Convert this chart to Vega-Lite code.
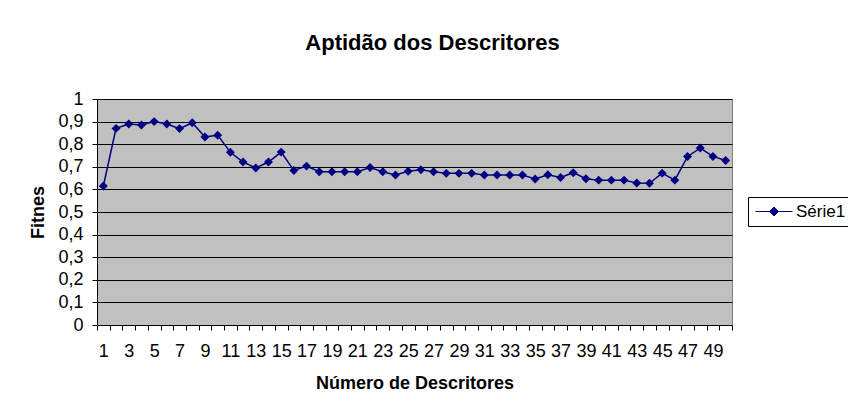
{
  "$schema": "https://vega.github.io/schema/vega-lite/v6.json",
  "width": 635,
  "height": 226,
  "autosize": "none",
  "padding": {"left": 97, "top": 99, "right": 116, "bottom": 87},
  "background": "white",
  "title": {
    "text": "Aptidão dos Descritores",
    "font": "Liberation Sans",
    "fontSize": 22,
    "fontWeight": "bold",
    "color": "black",
    "anchor": "middle",
    "dx": 18,
    "baseline": "alphabetic",
    "offset": 18
  },
  "data": {
    "values": [
      {"n": 1, "fitness": 0.615, "serie": "Série1"},
      {"n": 2, "fitness": 0.87, "serie": "Série1"},
      {"n": 3, "fitness": 0.889, "serie": "Série1"},
      {"n": 4, "fitness": 0.885, "serie": "Série1"},
      {"n": 5, "fitness": 0.9, "serie": "Série1"},
      {"n": 6, "fitness": 0.889, "serie": "Série1"},
      {"n": 7, "fitness": 0.869, "serie": "Série1"},
      {"n": 8, "fitness": 0.895, "serie": "Série1"},
      {"n": 9, "fitness": 0.832, "serie": "Série1"},
      {"n": 10, "fitness": 0.84, "serie": "Série1"},
      {"n": 11, "fitness": 0.764, "serie": "Série1"},
      {"n": 12, "fitness": 0.721, "serie": "Série1"},
      {"n": 13, "fitness": 0.695, "serie": "Série1"},
      {"n": 14, "fitness": 0.721, "serie": "Série1"},
      {"n": 15, "fitness": 0.765, "serie": "Série1"},
      {"n": 16, "fitness": 0.684, "serie": "Série1"},
      {"n": 17, "fitness": 0.703, "serie": "Série1"},
      {"n": 18, "fitness": 0.678, "serie": "Série1"},
      {"n": 19, "fitness": 0.678, "serie": "Série1"},
      {"n": 20, "fitness": 0.678, "serie": "Série1"},
      {"n": 21, "fitness": 0.678, "serie": "Série1"},
      {"n": 22, "fitness": 0.697, "serie": "Série1"},
      {"n": 23, "fitness": 0.678, "serie": "Série1"},
      {"n": 24, "fitness": 0.664, "serie": "Série1"},
      {"n": 25, "fitness": 0.68, "serie": "Série1"},
      {"n": 26, "fitness": 0.687, "serie": "Série1"},
      {"n": 27, "fitness": 0.678, "serie": "Série1"},
      {"n": 28, "fitness": 0.671, "serie": "Série1"},
      {"n": 29, "fitness": 0.671, "serie": "Série1"},
      {"n": 30, "fitness": 0.671, "serie": "Série1"},
      {"n": 31, "fitness": 0.664, "serie": "Série1"},
      {"n": 32, "fitness": 0.664, "serie": "Série1"},
      {"n": 33, "fitness": 0.664, "serie": "Série1"},
      {"n": 34, "fitness": 0.664, "serie": "Série1"},
      {"n": 35, "fitness": 0.646, "serie": "Série1"},
      {"n": 36, "fitness": 0.665, "serie": "Série1"},
      {"n": 37, "fitness": 0.653, "serie": "Série1"},
      {"n": 38, "fitness": 0.674, "serie": "Série1"},
      {"n": 39, "fitness": 0.647, "serie": "Série1"},
      {"n": 40, "fitness": 0.641, "serie": "Série1"},
      {"n": 41, "fitness": 0.641, "serie": "Série1"},
      {"n": 42, "fitness": 0.641, "serie": "Série1"},
      {"n": 43, "fitness": 0.628, "serie": "Série1"},
      {"n": 44, "fitness": 0.627, "serie": "Série1"},
      {"n": 45, "fitness": 0.672, "serie": "Série1"},
      {"n": 46, "fitness": 0.641, "serie": "Série1"},
      {"n": 47, "fitness": 0.746, "serie": "Série1"},
      {"n": 48, "fitness": 0.783, "serie": "Série1"},
      {"n": 49, "fitness": 0.746, "serie": "Série1"},
      {"n": 50, "fitness": 0.728, "serie": "Série1"}
    ]
  },
  "mark": {
    "type": "line",
    "strokeWidth": 1.5,
    "point": {"shape": "diamond", "size": 80, "filled": true, "opacity": 1}
  },
  "encoding": {
    "x": {
      "field": "n",
      "type": "quantitative",
      "scale": {"domain": [0.5, 50.5], "nice": false, "zero": false},
      "axis": {
        "title": "Número de Descritores",
        "values": [0.5,1,1.5,2.5,3,3.5,4.5,5,5.5,6.5,7,7.5,8.5,9,9.5,10.5,11,11.5,12.5,13,13.5,14.5,15,15.5,16.5,17,17.5,18.5,19,19.5,20.5,21,21.5,22.5,23,23.5,24.5,25,25.5,26.5,27,27.5,28.5,29,29.5,30.5,31,31.5,32.5,33,33.5,34.5,35,35.5,36.5,37,37.5,38.5,39,39.5,40.5,41,41.5,42.5,43,43.5,44.5,45,45.5,46.5,47,47.5,48.5,49,49.5,50.5],
        "labelExpr": "datum.value % 2 == 1 ? format(datum.value, 'd') : ''",
        "labelOverlap": false,
        "labelFlush": false,
        "tickOpacity": {"expr": "datum.value % 1 == 0 ? 0 : 1"},
        "grid": false,
        "labelPadding": 12,
        "titlePadding": 14
      }
    },
    "y": {
      "field": "fitness",
      "type": "quantitative",
      "scale": {"domain": [0, 1], "nice": false},
      "axis": {
        "title": "Fitnes",
        "values": [0,0.1,0.2,0.3,0.4,0.5,0.6,0.7,0.8,0.9,1],
        "labelExpr": "replace(format(datum.value, '~g'), '.', ',')",
        "grid": true,
        "gridColor": "black",
        "gridWidth": 1,
        "labelPadding": 9,
        "titlePadding": 10
      }
    },
    "color": {
      "field": "serie",
      "type": "nominal",
      "scale": {"range": ["#000080"]},
      "legend": {
        "title": null,
        "orient": "none",
        "legendX": 651,
        "legendY": 98,
        "strokeColor": "black",
        "fillColor": "white",
        "padding": 6,
        "symbolType": "M-1.4,0L6.0,0M1.4,0L2.3,-0.9L3.2,0L2.3,0.9Z",
        "symbolSize": 100,
        "symbolStrokeWidth": 1,
        "symbolStrokeColor": "#000080",
        "symbolFillColor": "#000080",
        "symbolOpacity": 1,
        "labelOffset": 25,
        "labelFont": "Liberation Sans",
        "labelFontSize": 17,
        "labelColor": "black"
      }
    }
  },
  "config": {
    "font": "Liberation Sans",
    "view": {"fill": "#C0C0C0", "stroke": "#808080", "strokeWidth": 1},
    "axis": {
      "domainColor": "black",
      "domainWidth": 1,
      "tickColor": "black",
      "tickSize": 5,
      "labelFont": "Liberation Sans",
      "labelFontSize": 18,
      "labelColor": "black",
      "titleFont": "Liberation Sans",
      "titleFontSize": 18,
      "titleFontWeight": "bold",
      "titleColor": "black"
    }
  }
}
